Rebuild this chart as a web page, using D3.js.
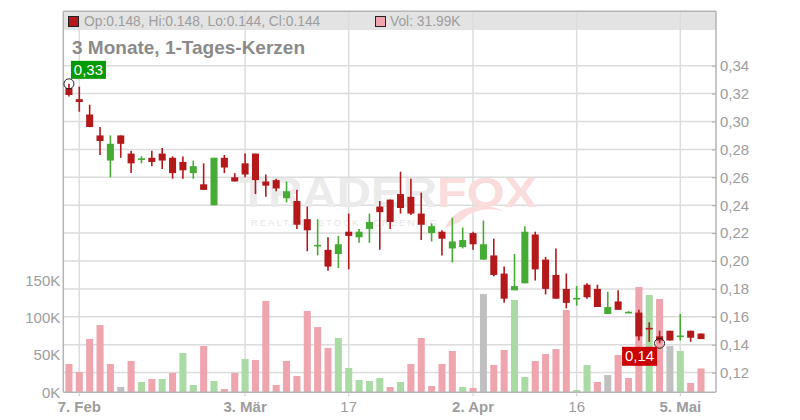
<!DOCTYPE html>
<html><head><meta charset="utf-8">
<script src="https://cdn.jsdelivr.net/npm/d3@7/dist/d3.min.js"></script>
<style>
html,body{margin:0;padding:0;background:#fff;}
svg{display:block;font-family:"Liberation Sans",Arial,sans-serif;}
</style></head>
<body><svg id="chart" width="800" height="420"></svg>
<script>
const dates = [
"2025-02-06","2025-02-07","2025-02-10","2025-02-11","2025-02-12","2025-02-13","2025-02-14","2025-02-17","2025-02-18","2025-02-19",
"2025-02-20","2025-02-21","2025-02-24","2025-02-25","2025-02-26","2025-02-27","2025-02-28","2025-03-03","2025-03-04","2025-03-05",
"2025-03-06","2025-03-07","2025-03-10","2025-03-11","2025-03-12","2025-03-13","2025-03-14","2025-03-17","2025-03-18","2025-03-19",
"2025-03-20","2025-03-21","2025-03-24","2025-03-25","2025-03-26","2025-03-27","2025-03-28","2025-03-31","2025-04-01","2025-04-02",
"2025-04-03","2025-04-04","2025-04-07","2025-04-08","2025-04-09","2025-04-10","2025-04-11","2025-04-14","2025-04-15","2025-04-16",
"2025-04-17","2025-04-22","2025-04-23","2025-04-24","2025-04-25","2025-04-28","2025-04-29","2025-04-30","2025-05-02","2025-05-05",
"2025-05-06","2025-05-07"];
const open = [0.324,0.316,0.305,0.290,0.272,0.290,0.277,0.273,0.274,0.277, 0.274,0.271,0.263,0.255,0.240,0.274,0.260,0.270,0.277,0.257, 0.258,0.245,0.243,0.230,0.211,0.208,0.205,0.221,0.217,0.223, 0.239,0.244,0.248,0.246,0.234,0.220,0.221,0.209,0.210,0.220, 0.201,0.204,0.191,0.179,0.184,0.219,0.201,0.190,0.180,0.173, 0.183,0.180,0.162,0.171,0.163,0.163,0.152,0.146,0.150,0.146, 0.150,0.148];
const high = [0.327,0.325,0.312,0.296,0.290,0.290,0.279,0.275,0.279,0.281, 0.275,0.275,0.272,0.270,0.274,0.276,0.263,0.277,0.277,0.262, 0.259,0.257,0.251,0.239,0.230,0.217,0.218,0.234,0.223,0.234, 0.243,0.244,0.264,0.259,0.249,0.227,0.222,0.231,0.224,0.221, 0.229,0.216,0.196,0.205,0.225,0.221,0.203,0.209,0.191,0.182, 0.184,0.183,0.178,0.179,0.164,0.165,0.156,0.150,0.150,0.162, 0.150,0.148];
const low = [0.318,0.307,0.296,0.276,0.260,0.274,0.263,0.270,0.268,0.266, 0.259,0.259,0.259,0.251,0.240,0.263,0.257,0.260,0.248,0.246, 0.250,0.242,0.223,0.207,0.204,0.193,0.195,0.194,0.213,0.213, 0.208,0.223,0.234,0.233,0.215,0.214,0.204,0.199,0.209,0.208, 0.201,0.189,0.170,0.179,0.184,0.186,0.176,0.173,0.166,0.168, 0.173,0.167,0.162,0.165,0.163,0.143,0.142,0.141,0.143,0.143, 0.142,0.144];
const close = [0.319,0.314,0.296,0.286,0.284,0.284,0.270,0.273,0.271,0.272, 0.263,0.265,0.268,0.251,0.274,0.267,0.257,0.262,0.258,0.254, 0.252,0.250,0.226,0.222,0.211,0.196,0.212,0.218,0.221,0.228, 0.235,0.228,0.238,0.234,0.226,0.225,0.216,0.214,0.215,0.212, 0.212,0.190,0.173,0.182,0.221,0.194,0.180,0.173,0.170,0.173, 0.174,0.167,0.167,0.165,0.163,0.146,0.151,0.143,0.143,0.146, 0.145,0.144];
const volumeK = [37.9,27.2,71.5,90.2,37.9,7.1,42.0,13.8,17.8,17.8, 25.9,52.7,9.8,62.0,15.2,4.4,25.9,44.7,43.3,122.4, 9.8,42.0,21.8,109.0,87.5,59.4,72.8,32.6,16.5,15.2, 19.2,7.1,13.8,37.9,72.8,8.4,37.9,55.4,7.1,5.8, 131.8,36.6,56.7,123.7,20.5,42.0,51.3,58.0,110.3,3.1, 36.6,13.8,23.2,50.0,19.2,141.2,130.4,125.0,62.0,55.4, 12.5,31.99];
const xTickDates = ["2025-02-07","2025-03-03","2025-03-17","2025-04-02","2025-04-16","2025-05-05"];
const xTickLabels = ["7. Feb","3. Mär","17","2. Apr","16","5. Mai"];
const priceTicks = [0.12,0.14,0.16,0.18,0.20,0.22,0.24,0.26,0.28,0.30,0.32,0.34];
const volTicks = [0,50,100,150];
const titleText = "3 Monate, 1-Tages-Kerzen";
const highLabel = "0,33", lowLabel = "0,14";

const C = {red:"#b3191b", green:"#46ab35", vRed:"#efa5ad", vGreen:"#abdba5", vGray:"#c0c0c0",
  grid:"#dcdcdc", axis:"#b4b4b4", text:"#9d9d9d"};
const L = 63.3, R = 716, T = 11.3, B = 392.3, step = 10.362;
const svg = d3.select("#chart");
svg.append("rect").attr("width",800).attr("height",420).attr("fill","#fff");

const x = d3.scaleBand().domain(dates)
  .range([68.94 - step/2, 68.94 - step/2 + step*dates.length])
  .paddingInner(0.32).paddingOuter(0.16);
const cx = d => x(d) + x.bandwidth()/2;
const y = d3.scaleLinear().domain([0.12,0.34]).range([372.6,65.7]);
const yv = d3.scaleLinear().domain([0,150]).range([B,280.4]);

// header band
svg.append("rect").attr("x",L).attr("y",T).attr("width",R-L).attr("height",30-T).attr("fill","#e3e3e3");

// grid
const g = svg.append("g");
g.selectAll("line.h").data(priceTicks).join("line")
  .attr("x1",L).attr("x2",R).attr("y1",d=>y(d)).attr("y2",d=>y(d))
  .attr("stroke",C.grid).attr("stroke-width",1.5);
g.selectAll("line.v").data(xTickDates).join("line")
  .attr("x1",d=>cx(d)).attr("x2",d=>cx(d)).attr("y1",T).attr("y2",B)
  .attr("stroke",C.grid).attr("stroke-width",1.5);

// watermark
const wm = svg.append("g");
wm.append("text").attr("x",239).attr("y",207).attr("font-size",42).attr("font-weight","bold")
  .attr("textLength",198).attr("lengthAdjust","spacingAndGlyphs").attr("fill","#ebebeb").text("TRADER");
wm.append("text").attr("x",437).attr("y",207).attr("font-size",42).attr("font-weight","bold")
  .attr("textLength",100).attr("lengthAdjust","spacingAndGlyphs").attr("fill","#fbdcdc").text("FOX");
wm.append("path").attr("d","M445,228 C455,205 485,200 505,212 C490,206 470,210 460,222 Z")
  .attr("fill","#fbdcdc");
wm.append("text").attr("x",251).attr("y",226).attr("font-size",9.5)
  .attr("textLength",186).attr("lengthAdjust","spacing")
  .attr("fill","#e6e6e6").text("REALTIME STOCK SCREENING");

// volume
const vcol = i => {
  const p = i === 0 ? open[0] : close[i-1];
  return close[i] > p ? C.vGreen : close[i] < p ? C.vRed : C.vGray;
};
svg.append("g").selectAll("rect").data(dates).join("rect")
  .attr("x",d=>x(d)).attr("width",x.bandwidth())
  .attr("y",(d,i)=>yv(volumeK[i])).attr("height",(d,i)=>B-yv(volumeK[i]))
  .attr("fill",(d,i)=>vcol(i));

// candles
const cg = svg.append("g");
dates.forEach((d,i)=>{
  const col = close[i] >= open[i] ? C.green : C.red;
  cg.append("line").attr("x1",cx(d)).attr("x2",cx(d)).attr("y1",y(high[i])).attr("y2",y(low[i]))
    .attr("stroke",col).attr("stroke-width",1.6);
  const top = y(Math.max(open[i],close[i])), bot = y(Math.min(open[i],close[i]));
  const h = Math.max(bot-top, 1.6);
  cg.append("rect").attr("x",x(d)).attr("width",x.bandwidth())
    .attr("y",top - (bot-top<1.6 ? 0.8 - (bot-top)/2 : 0)).attr("height",h).attr("fill",col);
});

// axes
const ax = svg.append("g").attr("stroke",C.axis).attr("stroke-width",1.5);
ax.append("line").attr("x1",L).attr("x2",R).attr("y1",T).attr("y2",T);
ax.append("line").attr("x1",L).attr("x2",L).attr("y1",T).attr("y2",B);
ax.append("line").attr("x1",R).attr("x2",R).attr("y1",T).attr("y2",B);
ax.append("line").attr("x1",L).attr("x2",R).attr("y1",B).attr("y2",B);

const fmtP = d => d.toFixed(2).replace(".",",");
const ra = svg.append("g").attr("transform",`translate(${R},0)`)
  .call(d3.axisRight(y).tickValues(priceTicks).tickFormat(fmtP).tickSizeInner(-4).tickSizeOuter(0).tickPadding(4));
ra.select(".domain").remove();
ra.selectAll("line").attr("stroke","#aaa");
ra.selectAll("text").attr("fill",C.text).attr("font-size",15).attr("font-family","Liberation Sans, Arial, sans-serif");

const la = svg.append("g").attr("transform",`translate(${L},0)`)
  .call(d3.axisLeft(yv).tickValues(volTicks).tickFormat(d=>d+"K").tickSize(0).tickPadding(3));
la.select(".domain").remove();
la.selectAll("text").attr("fill",C.text).attr("font-size",15).attr("font-family","Liberation Sans, Arial, sans-serif");

const ba = svg.append("g").attr("transform",`translate(0,${B})`)
  .call(d3.axisBottom(x).tickValues(xTickDates).tickFormat((d,i)=>xTickLabels[i]).tickSizeInner(4).tickSizeOuter(0).tickPadding(5));
ba.select(".domain").remove();
ba.selectAll("line").attr("stroke","#ccc");
ba.selectAll("text").attr("fill",C.text).attr("font-size",15).attr("font-family","Liberation Sans, Arial, sans-serif")
  .attr("font-weight",(d,i)=>xTickLabels[i].includes(".") ? "bold" : "normal");

// legend
const lg = svg.append("g").attr("font-size",13.8).attr("fill",C.text);
lg.append("rect").attr("x",68.5).attr("y",16.5).attr("width",10).attr("height",10).attr("fill",C.red).attr("stroke","#222").attr("stroke-width",1);
const last = dates.length-1;
const f3 = v => v.toFixed(3);
lg.append("text").attr("x",84).attr("y",26.3).text(`Op:${f3(open[last])}, Hi:${f3(high[last])}, Lo:${f3(low[last])}, Cl:${f3(close[last])}`);
lg.append("rect").attr("x",375.5).attr("y",16.5).attr("width",10).attr("height",10).attr("fill",C.vRed).attr("stroke","#222").attr("stroke-width",1);
lg.append("text").attr("x",390).attr("y",26.3).text(`Vol: ${volumeK[last].toFixed(2)}K`);

svg.append("text").attr("x",72).attr("y",54).attr("font-size",18.5).attr("font-weight","bold")
  .attr("textLength",233).attr("lengthAdjust","spacingAndGlyphs")
  .attr("fill","#8a8a8a").text(titleText);

// high / low markers
const hi = d3.maxIndex(high), lo = d3.minIndex(low);
const hx = cx(dates[hi]), hy = y(high[hi]);
svg.append("circle").attr("cx",hx).attr("cy",hy).attr("r",5).attr("fill","none").attr("stroke","#222").attr("stroke-width",1);
svg.append("rect").attr("x",hx+2).attr("y",hy-23).attr("width",35).attr("height",18).attr("fill","#049a04");
svg.append("text").attr("x",hx+19.5).attr("y",hy-9).attr("text-anchor","middle").attr("font-size",15).attr("fill","#fff").text(highLabel);
const lx = cx(dates[lo]), ly = y(low[lo]);
svg.append("circle").attr("cx",lx).attr("cy",ly).attr("r",5).attr("fill","none").attr("stroke","#222").attr("stroke-width",1);
svg.append("rect").attr("x",lx-37.5).attr("y",ly+3.5).attr("width",35).attr("height",19).attr("fill","#cc0000");
svg.append("text").attr("x",lx-20).attr("y",ly+18).attr("text-anchor","middle").attr("font-size",15).attr("fill","#fff").text(lowLabel);
</script></body></html>
